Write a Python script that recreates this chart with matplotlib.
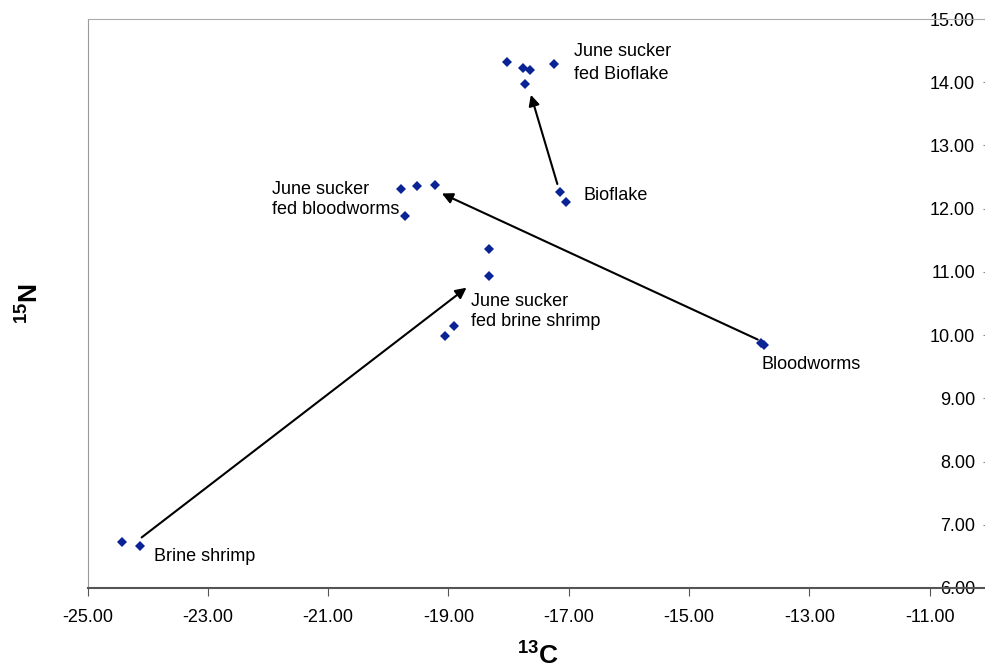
import matplotlib.pyplot as plt
from matplotlib.ticker import FormatStrFormatter

plt.rcParams['font.family'] = ['Liberation Sans', 'DejaVu Sans']
plt.rcParams['mathtext.fontset'] = 'custom'
plt.rcParams['mathtext.rm'] = 'Liberation Sans'
plt.rcParams['mathtext.bf'] = 'Liberation Sans:bold'

# isotope values (d13C, d15N)
c13 = [-18.03, -17.76, -17.65, -17.24, -17.73,     # june sucker fed bioflake
       -17.14, -17.04,                             # bioflake
       -19.79, -19.53, -19.22, -19.73,             # june sucker fed bloodworms
       -18.33, -18.33, -18.91, -19.06,             # june sucker fed brine shrimp
       -13.80, -13.75,                             # bloodworms
       -24.42, -24.12]                             # brine shrimp
n15 = [14.32, 14.23, 14.20, 14.29, 13.97,
       12.27, 12.11,
       12.31, 12.36, 12.37, 11.88,
       11.36, 10.94, 10.14, 9.99,
       9.87, 9.84,
       6.72, 6.66]

# diet -> fish arrows (start, end)
arrow_start = [(-17.19, 12.39), (-13.86, 9.93), (-24.10, 6.80)]
arrow_end = [(-17.63, 13.80), (-19.11, 12.24), (-18.70, 10.75)]

labels = ['June sucker\nfed Bioflake', 'Bioflake', 'June sucker\nfed bloodworms',
          'June sucker\nfed brine shrimp', 'Bloodworms', 'Brine shrimp']
label_pos = [(-16.91, 14.31), (-16.76, 12.21), (-21.94, 12.14),
             (-18.63, 10.37), (-13.80, 9.53), (-23.89, 6.50)]
label_spacing = [1.45, 1.2, 1.25, 1.25, 1.2, 1.2]

xticks = list(range(-25, -10, 2))
yticks = list(range(6, 16))

fig = plt.figure(figsize=(9.85, 6.71), dpi=100)
ax = fig.add_axes([87.5 / 985, 1 - 588 / 671, (986 - 87.5) / 985, 569 / 671])

ax.plot(c13, n15, 'D', color='#0a2496', markersize=5.5, markeredgewidth=0)

for s, e in zip(arrow_start, arrow_end):
    ax.annotate('', xy=e, xytext=s,
                arrowprops=dict(arrowstyle='-|>', color='black', lw=1.5,
                                mutation_scale=16, shrinkA=0, shrinkB=0))

for txt, (x, y), ls in zip(labels, label_pos, label_spacing):
    ax.text(x, y, txt, fontsize=13, ha='left', va='center', linespacing=ls)

ax.set_xlim(-25, -25 + (986 - 87.5) / 60.16)
ax.set_ylim(6, 15)
ax.set_xticks(xticks)
ax.set_yticks(yticks)
ax.xaxis.set_major_formatter(FormatStrFormatter('%.2f'))
ax.yaxis.set_major_formatter(FormatStrFormatter('%.2f'))

ax.yaxis.tick_right()
ax.tick_params(axis='y', direction='in', length=2, pad=-8, labelsize=13, color='#888888')
for lab in ax.get_yticklabels():
    lab.set_horizontalalignment('right')
ax.tick_params(axis='x', direction='out', length=6, pad=9, labelsize=13, color='#555555')

ax.spines['right'].set_visible(False)
ax.spines['left'].set_color('#999999')
ax.spines['top'].set_color('#aaaaaa')
ax.spines['bottom'].set_color('#555555')
ax.spines['bottom'].set_linewidth(1.5)

fig.text(538 / 985, 1 - 655 / 671, r'$^{\mathbf{13}}\mathbf{C}$', fontsize=19,
         ha='center', va='center')
fig.text(29 / 985, 1 - 304 / 671, r'$^{\mathbf{15}}\mathbf{N}$', fontsize=19,
         ha='center', va='center', rotation=90)

fig.savefig('out.png', dpi=100)
